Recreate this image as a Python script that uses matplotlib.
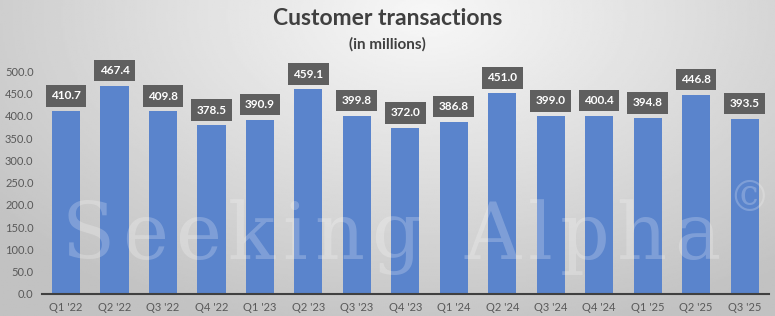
import numpy as np
import matplotlib
matplotlib.use('Agg')
import matplotlib.pyplot as plt

plt.rcParams['font.family'] = ['Lato', 'DejaVu Sans']

# data
quarters = ["Q1 '22", "Q2 '22", "Q3 '22", "Q4 '22", "Q1 '23", "Q2 '23", "Q3 '23", "Q4 '23",
            "Q1 '24", "Q2 '24", "Q3 '24", "Q4 '24", "Q1 '25", "Q2 '25", "Q3 '25"]
transactions = [410.7, 467.4, 409.8, 378.5, 390.9, 459.1, 399.8, 372.0,
                386.8, 451.0, 399.0, 400.4, 394.8, 446.8, 393.5]
yticks = [0, 50, 100, 150, 200, 250, 300, 350, 400, 450, 500]

fig = plt.figure(figsize=(7.75, 3.16), dpi=100)

# gradient background, lighter at top centre
bg = fig.add_axes([0, 0, 1, 1], zorder=-10)
yy, xx = np.mgrid[0:1:200j, 0:1:400j]
d = np.sqrt(((xx - 0.55) / 0.75) ** 2 + ((yy - 0.05) / 1.1) ** 2)
shade = np.clip(0.97 - 0.22 * d, 0.76, 0.97)
bg.imshow(shade, cmap='gray', vmin=0, vmax=1, aspect='auto', extent=[0, 1, 1, 0])
bg.axis('off')

ax = fig.add_axes([0.054, 0.07, 0.938, 0.775])
ax.patch.set_alpha(0)
x = np.arange(len(quarters))
ax.bar(x, transactions, width=0.58, color='#5a84cc', zorder=2)

for xi, v in zip(x, transactions):
    ax.annotate(f'{v:.1f}', (xi, v), xytext=(0, 11), textcoords='offset points',
                ha='center', va='center', fontsize=8.5, fontweight='bold', color='white',
                bbox=dict(boxstyle='square,pad=0.45', fc='#5f5f5f', ec='none'), zorder=4)

ax.set_xlim(-0.5, len(quarters) - 0.5)
ax.set_ylim(0, 550)
ax.set_xticks(x)
ax.set_xticklabels(quarters, fontsize=8, color='#595959')
ax.set_yticks(yticks)
ax.set_yticklabels([f'{t:.1f}' for t in yticks], fontsize=8, color='#595959')
ax.tick_params(length=0, pad=6)
for s in ['top', 'right', 'left']:
    ax.spines[s].set_visible(False)
ax.spines['bottom'].set_color('#404040')
ax.spines['bottom'].set_linewidth(1.5)
ax.spines['bottom'].set_zorder(5)

# watermark, letter-spaced
renderer = fig.canvas.get_renderer()
wm = 'Seeking Alpha'
xpos = 62
for ch in wm:
    t = fig.text(xpos / 775, 0.25, ch, fontsize=56, family='DejaVu Serif', color='white',
                 alpha=0.22, ha='left', va='center', zorder=3)
    w = t.get_window_extent(renderer).width if ch != ' ' else 30
    xpos += w + 7
fig.text(0.993, 0.37, '©', fontsize=30, family='DejaVu Serif', color='white',
         alpha=0.22, ha='right', va='center', zorder=3)

fig.text(0.5, 0.94, 'Customer transactions', ha='center', va='center',
         fontsize=16.5, fontweight='bold', color='#404040')
fig.text(0.5, 0.86, '(in millions)', ha='center', va='center',
         fontsize=11, fontweight='bold', color='#404040')

fig.savefig('out.png', dpi=100)
